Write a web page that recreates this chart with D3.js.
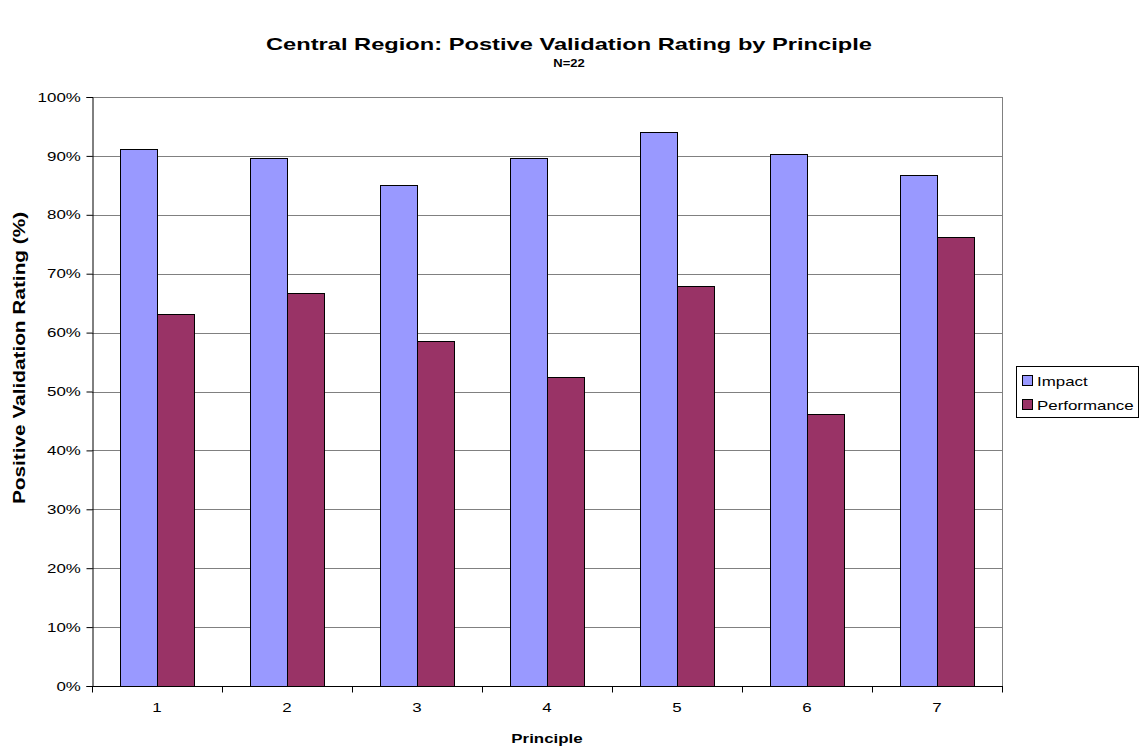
<!DOCTYPE html>
<html>
<head>
<meta charset="utf-8">
<script src="https://cdn.jsdelivr.net/npm/d3@7"></script>
<style>
  html, body { margin: 0; padding: 0; background: #fff; }
  svg { display: block; font-family: "Liberation Sans", Arial, sans-serif; }
</style>
</head>
<body>
<svg id="chart" width="1141" height="751"></svg>
<script>
// Chart data
const principles = ["1", "2", "3", "4", "5", "6", "7"];
const seriesNames = ["Impact", "Performance"];
const impact = [0.912, 0.896, 0.851, 0.896, 0.940, 0.904, 0.867];
const performance = [0.632, 0.667, 0.585, 0.524, 0.679, 0.461, 0.762];
const yTicks = [0, 0.1, 0.2, 0.3, 0.4, 0.5, 0.6, 0.7, 0.8, 0.9, 1.0];
const colors = ["#9999FF", "#993366"];

const titleText = "Central Region: Postive Validation Rating by Principle";
const subtitleText = "N=22";
const xTitle = "Principle";
const yTitle = "Positive Validation Rating (%)";

// Text in this chart is drawn with a wide horizontal stretch
const SX = 1.3;

const svg = d3.select("#chart");
const plot = { left: 92, right: 1002, top: 97, bottom: 686 };

const x0 = d3.scaleBand().domain(principles).range([plot.left, plot.right]).padding(0);
const x1 = d3.scaleBand().domain(seriesNames).range([0, x0.bandwidth()]).paddingInner(0).paddingOuter(0.757);
const y = d3.scaleLinear().domain([0, 1]).range([plot.bottom, plot.top]);

// Gridlines
svg.append("g").selectAll("line").data(yTicks.filter(t => t > 0)).join("line")
  .attr("x1", plot.left).attr("x2", plot.right)
  .attr("y1", d => Math.round(y(d)) + 0.5).attr("y2", d => Math.round(y(d)) + 0.5)
  .attr("stroke", "#808080").attr("stroke-width", 1);

// Plot-area right border
svg.append("line")
  .attr("x1", plot.right + 0.5).attr("x2", plot.right + 0.5)
  .attr("y1", plot.top).attr("y2", plot.bottom)
  .attr("stroke", "#808080");

// Bars
const rows = principles.map((p, i) => ({ p, vals: [impact[i], performance[i]] }));
const groups = svg.append("g").selectAll("g").data(rows).join("g")
  .attr("transform", d => `translate(${x0(d.p)},0)`);
groups.selectAll("rect").data(d => d.vals.map((v, j) => ({ v, s: seriesNames[j], j }))).join("rect")
  .attr("x", d => Math.round(x1(d.s)) + 0.5)
  .attr("y", d => Math.round(y(d.v)) + 0.5)
  .attr("width", x1.bandwidth())
  .attr("height", d => Math.round(plot.bottom) - Math.round(y(d.v)))
  .attr("fill", d => colors[d.j])
  .attr("stroke", "#000").attr("stroke-width", 1);

// Y axis
const yAxis = svg.append("g")
  .attr("transform", `translate(${plot.left + 0.5},0)`)
  .call(d3.axisLeft(y).tickValues(yTicks).tickFormat(d3.format(".0%")).tickSize(6).tickPadding(3));
yAxis.select(".domain").attr("stroke", "#000");
yAxis.selectAll(".tick line").attr("stroke", "#000");
yAxis.selectAll(".tick text")
  .attr("font-size", 13).attr("fill", "#000")
  .attr("font-family", "'Liberation Sans', Arial, sans-serif")
  .attr("transform", `scale(${SX},1)`);

// X axis: boundary ticks and centered labels
const xAxisG = svg.append("g").attr("transform", `translate(0,${plot.bottom + 0.5})`);
xAxisG.append("line").attr("x1", plot.left).attr("x2", plot.right + 1)
  .attr("stroke", "#000");
const boundaries = principles.map(p => x0(p)).concat([plot.right]);
xAxisG.selectAll("line.tk").data(boundaries).join("line").attr("class", "tk")
  .attr("x1", d => Math.round(d) + 0.5).attr("x2", d => Math.round(d) + 0.5)
  .attr("y1", 0).attr("y2", 6).attr("stroke", "#000");
xAxisG.selectAll("text").data(principles).join("text")
  .attr("transform", d => `translate(${x0(d) + x0.bandwidth() / 2},25.5) scale(${SX},1)`)
  .attr("text-anchor", "middle").attr("font-size", 13).attr("fill", "#000")
  .text(d => d);

// Titles
function stretchedText(txt, x, yy, size, sx) {
  return svg.append("text")
    .attr("transform", `translate(${x},${yy}) scale(${sx},1)`)
    .attr("text-anchor", "middle").attr("font-size", size)
    .attr("font-weight", "bold").attr("fill", "#000").text(txt);
}
stretchedText(titleText, 569, 50, 16, 1.48);
stretchedText(subtitleText, 569, 67, 10, SX);
stretchedText(xTitle, 547, 743, 13, SX);

// Vertical axis title, stretched along its own reading direction
svg.append("text")
  .attr("transform", `translate(25,358) rotate(-90) scale(${SX},1)`)
  .attr("text-anchor", "middle").attr("font-size", 16)
  .attr("font-weight", "bold").attr("fill", "#000").text(yTitle);

// Legend
const legend = svg.append("g");
legend.append("rect").attr("x", 1016.5).attr("y", 366.5).attr("width", 122).attr("height", 51)
  .attr("fill", "#fff").attr("stroke", "#000");
const items = legend.selectAll("g").data(seriesNames).join("g")
  .attr("transform", (d, i) => `translate(1022,${375 + i * 24})`);
items.append("rect").attr("x", 0.5).attr("y", 0.5).attr("width", 10).attr("height", 10)
  .attr("fill", (d, i) => colors[i]).attr("stroke", "#000");
items.append("text")
  .attr("transform", `translate(15,11) scale(${SX},1)`)
  .attr("font-size", 13).attr("fill", "#000").text(d => d);
</script>
</body>
</html>
